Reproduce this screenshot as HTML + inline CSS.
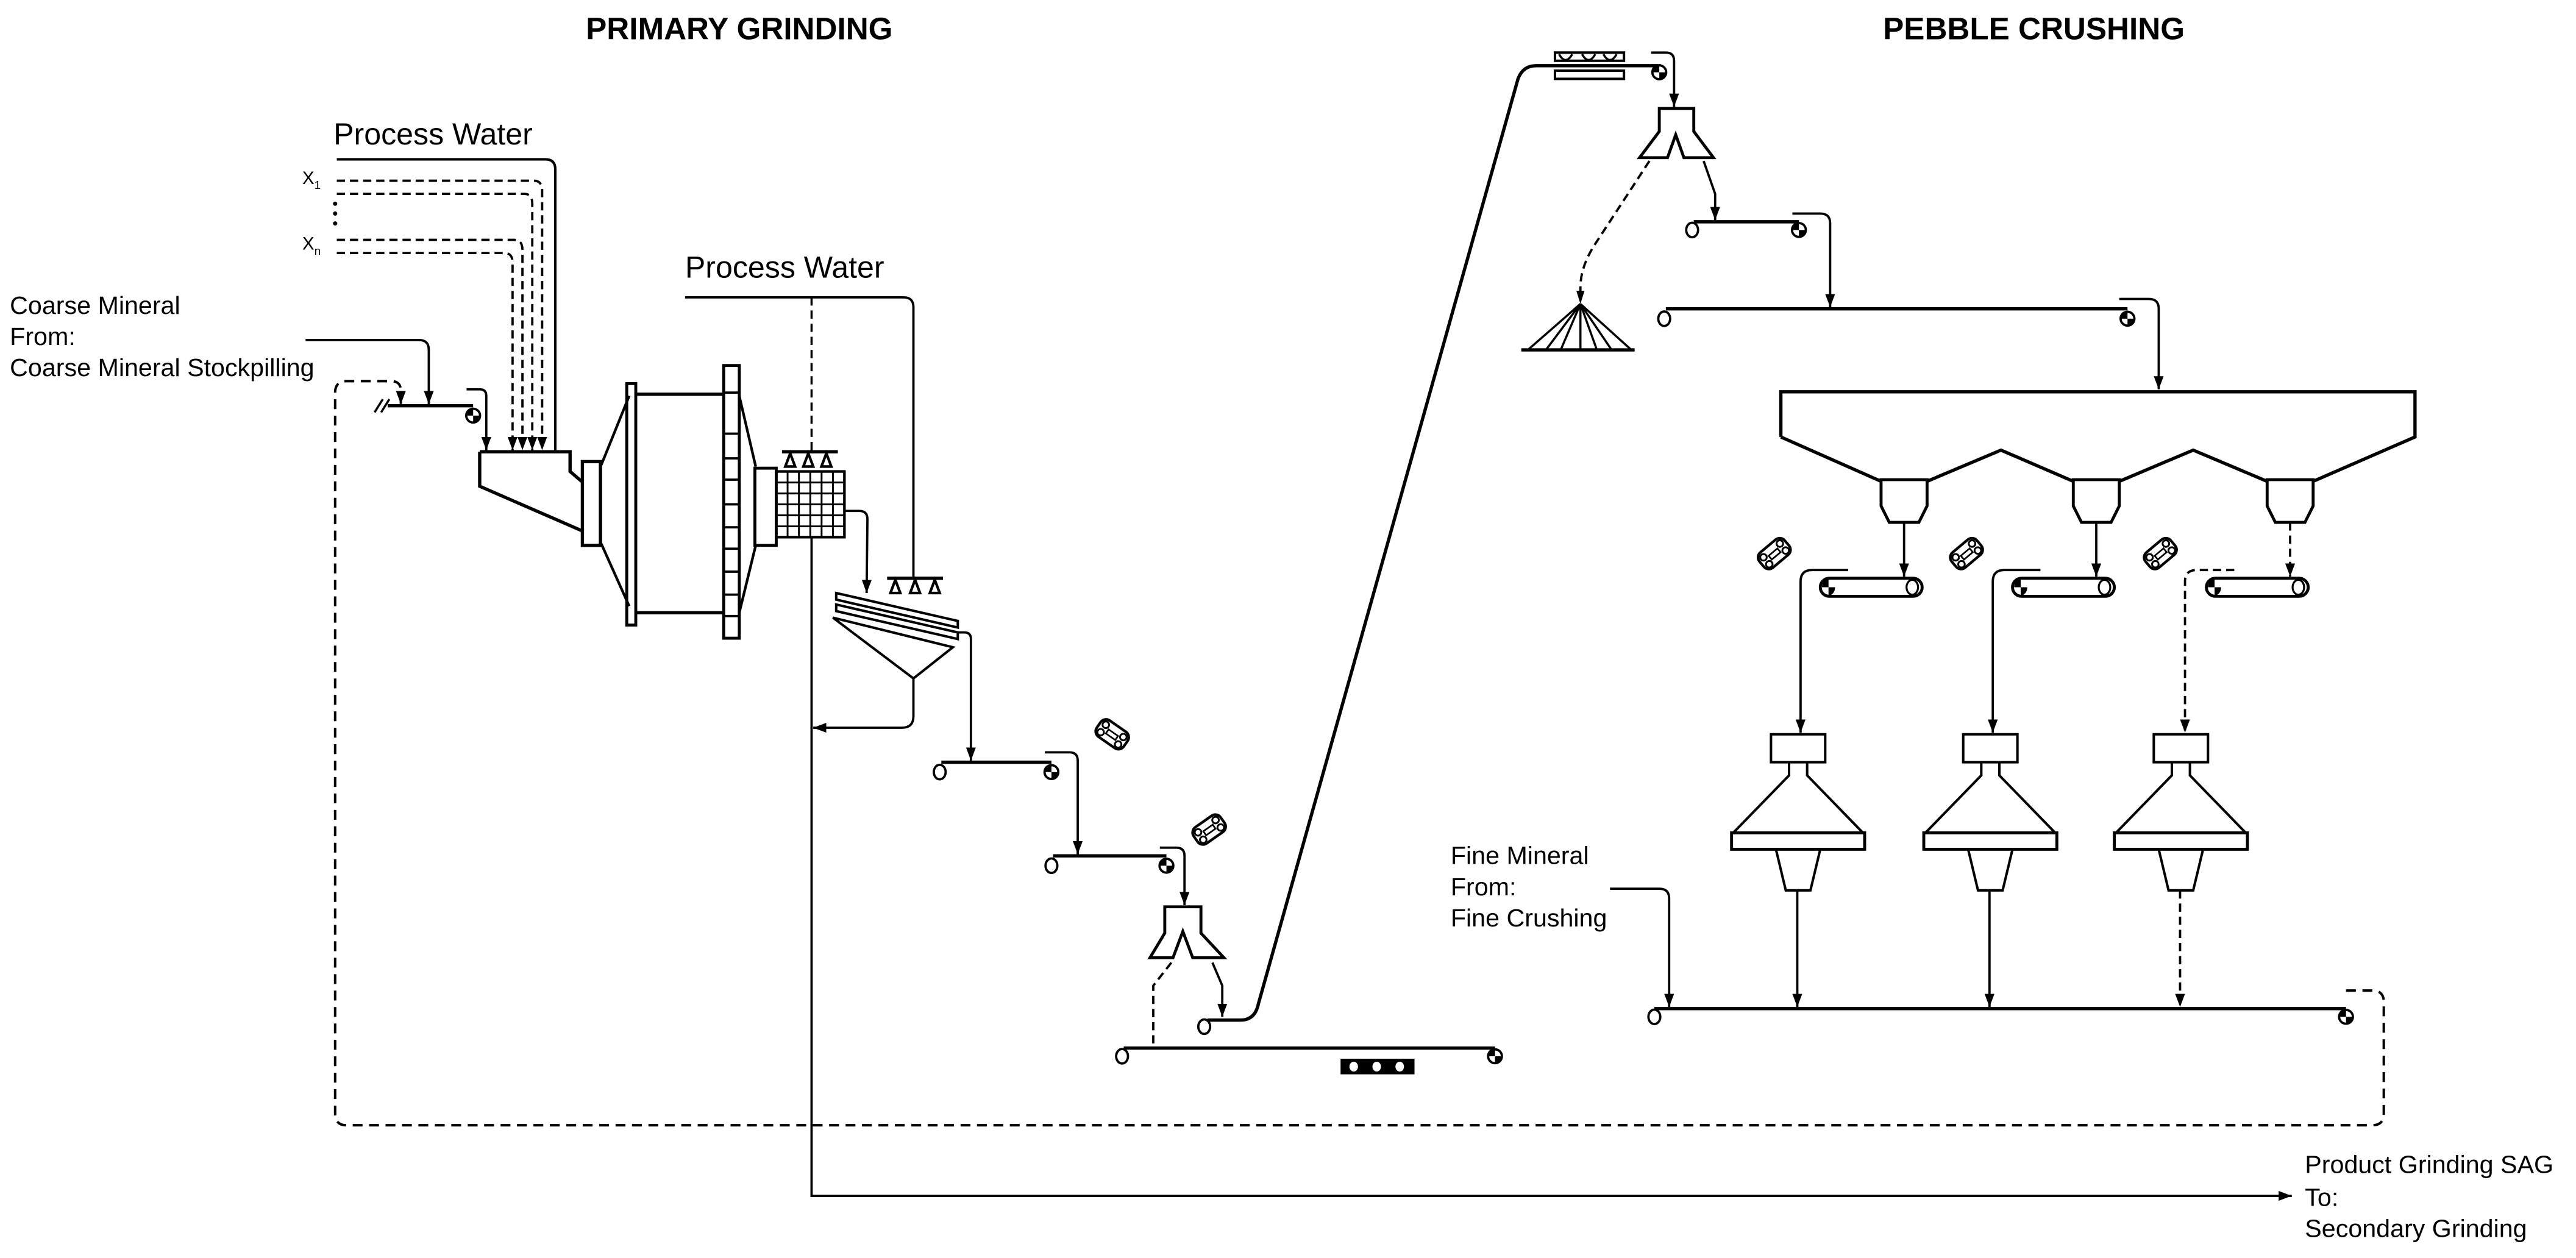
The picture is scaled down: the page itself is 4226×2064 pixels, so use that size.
<!DOCTYPE html>
<html><head><meta charset="utf-8"><style>
html,body{margin:0;padding:0;background:#fff}
svg{display:block}
text{font-family:"Liberation Sans",sans-serif;fill:#000}
</style></head><body>
<svg width="4226" height="2064" viewBox="0 0 1568 765.8" xmlns="http://www.w3.org/2000/svg">
<defs>
<marker id="ar" markerWidth="8" markerHeight="6" refX="8" refY="3" orient="auto" markerUnits="userSpaceOnUse"><path d="M0,0 L8,3 L0,6 Z" fill="#000"/></marker>
<symbol id="hp" viewBox="-6 -6 12 12" width="12" height="12" overflow="visible">
<circle cx="0" cy="0" r="4.2" fill="#fff" stroke="#000" stroke-width="1.4"/>
<path d="M0,0 L-4.2,0 A4.2,4.2 0 0 1 0,-4.2 Z" fill="#000"/>
<path d="M0,0 L4.2,0 A4.2,4.2 0 0 1 0,4.2 Z" fill="#000"/>
</symbol>
<symbol id="tp" viewBox="-6 -6 12 12" width="12" height="12" overflow="visible">
<ellipse cx="0" cy="0" rx="3.6" ry="4.4" fill="#fff" stroke="#000" stroke-width="1.4"/>
</symbol>
<g id="wg">
<rect x="-10" y="-6" width="20" height="12" rx="4" fill="#fff" stroke="#000" stroke-width="1.6"/>
<circle cx="-6.5" cy="-2.5" r="2" fill="#fff" stroke="#000" stroke-width="1.1"/>
<circle cx="6.5" cy="-2.5" r="2" fill="#fff" stroke="#000" stroke-width="1.1"/>
<circle cx="-6.5" cy="3" r="2" fill="#fff" stroke="#000" stroke-width="1.1"/>
<circle cx="6.5" cy="3" r="2" fill="#fff" stroke="#000" stroke-width="1.1"/>
<rect x="-3.5" y="-1.2" width="7" height="3" fill="#fff" stroke="#000" stroke-width="1"/>
</g>
</defs>

<text x="450" y="24" font-size="19" font-weight="bold" text-anchor="middle">PRIMARY GRINDING</text>
<text x="1238" y="24" font-size="19" font-weight="bold" text-anchor="middle">PEBBLE CRUSHING</text>

<text x="203" y="88" font-size="18.6">Process Water</text>
<text x="417" y="169" font-size="18.6">Process Water</text>
<text x="184" y="112" font-size="11">X<tspan font-size="7" dy="3">1</tspan></text>
<text x="184" y="152" font-size="11">X<tspan font-size="7" dy="3">n</tspan></text>
<circle cx="204" cy="124" r="1.3"/><circle cx="204" cy="130" r="1.3"/><circle cx="204" cy="136" r="1.3"/>

<text font-size="15.3"><tspan x="6" y="191">Coarse Mineral</tspan><tspan x="6" y="210">From:</tspan><tspan x="6" y="229">Coarse Mineral Stockpilling</tspan></text>
<text font-size="15.3"><tspan x="883" y="526">Fine Mineral</tspan><tspan x="883" y="545">From:</tspan><tspan x="883" y="564">Fine Crushing</tspan></text>
<text font-size="15.3"><tspan x="1403" y="714">Product Grinding SAG</tspan><tspan x="1403" y="734">To:</tspan><tspan x="1403" y="753">Secondary Grinding</tspan></text>

<g fill="none" stroke="#000" stroke-width="1.5" stroke-linejoin="miter">
<path d="M205,97 H332 Q338,97 338,103 V275"/>
<g stroke-dasharray="5,3" stroke-width="1.4">
<path d="M205,110 H325 Q330,110 330,116 V274" marker-end="url(#ar)"/>
<path d="M205,118 H319 Q324,118 324,124 V274" marker-end="url(#ar)"/>
<path d="M205,146 H313 Q318,146 318,152 V274" marker-end="url(#ar)"/>
<path d="M205,154 H307 Q312,154 312,160 V274" marker-end="url(#ar)"/>
</g>
<path d="M186,207 H255 Q261,207 261,213 V246" stroke-width="1.4" marker-end="url(#ar)"/>
<path d="M236,247 H288" stroke-width="2"/>
<path d="M228,251 L233,243 M232,251 L237,243" stroke-width="1.3"/>
<path d="M284,237 H292 Q296,237 296,241 V274" stroke-width="1.4" marker-end="url(#ar)"/>
<path d="M1428,603 H1444 Q1451,603 1451,610 V678 Q1451,685 1444,685 H211 Q204,685 204,678 V239 Q204,232 211,232 H238 Q244,232 244,238 V246" stroke-dasharray="6,4" marker-end="url(#ar)"/>

<path d="M292,275 H347 V287 L354,293 M292,275 V296 L354,323" stroke-width="2"/>
<rect x="354.5" y="281" width="11" height="51" stroke-width="2"/>
<path d="M366,283 L383,241 M366,331 L383,369" stroke-width="1.6"/>
<rect x="381.5" y="233.5" width="5.5" height="147" stroke-width="1.8"/>
<path d="M387,240 H441 M387,373 H441" stroke-width="2"/>
<rect x="440.5" y="222.5" width="9.5" height="166" stroke-width="1.8"/>
<path d="M440.5,239 H450 M440.5,264 H450 M440.5,279 H450 M440.5,292 H450 M440.5,307 H450 M440.5,321 H450 M440.5,334 H450 M440.5,348 H450 M440.5,362 H450 M440.5,375 H450" stroke-width="1.4"/>
<path d="M450,241 L460,284 M450,373 L460,332" stroke-width="1.6"/>
<rect x="459.5" y="285" width="13" height="47" stroke-width="1.8"/>
<rect x="472.5" y="287" width="41.5" height="40" stroke-width="1.6"/>
<path d="M479.4,287 V327 M486.3,287 V327 M493.2,287 V327 M500.1,287 V327 M507,287 V327 M472.5,293.7 H514 M472.5,300.4 H514 M472.5,307 H514 M472.5,313.7 H514 M472.5,320.4 H514" stroke-width="1.1"/>
<path d="M476,275 H510" stroke-width="2"/>
<path d="M481,276 L478,284 H484 Z M492,276 L489,284 H495 Z M503,276 L500,284 H506 Z" stroke-width="1.6"/>
<path d="M494,181 V275" stroke-dasharray="5,3" stroke-width="1.3"/>
<path d="M417,181 H550 Q556,181 556,187 V352" stroke-width="1.4"/>
<path d="M540,352 H574" stroke-width="2"/>
<path d="M545,353 L542,361 H548 Z M557,353 L554,361 H560 Z M569,353 L566,361 H572 Z" stroke-width="1.6"/>
<path d="M514,311 H523 Q528,311 528,316 L527.5,361" stroke-width="1.4" marker-end="url(#ar)"/>
<path d="M494,327 V728 H1395" stroke-width="1.4" marker-end="url(#ar)"/>
<path d="M509,361 L583,378 L583,382 L509,365 Z M509,368 L583,385 L583,389 L509,372 Z" stroke-width="1.5"/>
<path d="M507,376 L580,394 L556,413 Z" stroke-width="1.5"/>
<path d="M556,413 V436 Q556,443 549,443 H495" stroke-width="1.4" marker-end="url(#ar)"/>
<path d="M583,385 H587 Q591,385 591,389 V463" stroke-width="1.4" marker-end="url(#ar)"/>
<path d="M573,464 H640" stroke-width="2"/>
<path d="M636,458 H651 Q656,458 656,463 V520" stroke-width="1.4" marker-end="url(#ar)"/>
<path d="M641,521 H710" stroke-width="2"/>
<path d="M706,516 H716 Q721,516 721,521 V551" stroke-width="1.4" marker-end="url(#ar)"/>
<path d="M709,552 H731 V568 L745,583 H726 L720,567 L714,583 H700 L709,568 Z" stroke-width="1.8"/>
<path d="M738,586 L744,600 V619" stroke-width="1.4" marker-end="url(#ar)"/>
<path d="M713,586 L702,600 V638" stroke-width="1.4" stroke-dasharray="5,3"/>
<path d="M735,621 H755 Q764,621 766,611 L924,48 Q927,40 935,40 H1011" stroke-width="2"/>
<path d="M684,638 H910" stroke-width="2"/>
<rect x="816.5" y="645" width="44" height="8.5" fill="#000" stroke-width="1"/>
<ellipse cx="824" cy="649.3" rx="3.2" ry="3.6" fill="#fff" stroke-width="1.2"/>
<ellipse cx="838" cy="649.3" rx="3.2" ry="3.6" fill="#fff" stroke-width="1.2"/>
<ellipse cx="852" cy="649.3" rx="3.2" ry="3.6" fill="#fff" stroke-width="1.2"/>
<rect x="946.5" y="32" width="42" height="5" stroke-width="1.5"/>
<path d="M949,33 Q953,40 957,33 M963,33 Q967,40 971,33 M976,33 Q980,40 984,33" stroke-width="1.3"/>
<rect x="946.5" y="43" width="42" height="5" stroke-width="1.5"/>
<path d="M1005,32 H1014 Q1019,32 1019,37 V65" stroke-width="1.4" marker-end="url(#ar)"/>
<path d="M1010,66 H1031 V80 L1043,96 H1025 L1020,82 L1015,96 H998 L1010,80 Z" stroke-width="1.8"/>
<path d="M1037,98 L1044,118 V134" stroke-width="1.4" marker-end="url(#ar)"/>
<path d="M1004,98 L970,150 Q962,163 962,175 V181" stroke-width="1.4" stroke-dasharray="5,3"/>
<path d="M962,185 L959.5,177 H964.5 Z" fill="#000" stroke="none"/>
<path d="M926,213 H995" stroke-width="2"/>
<path d="M962,185 L930,213 M962,185 L941,213 M962,185 L950,213 M962,185 V213 M962,185 L972,213 M962,185 L981,213 M962,185 L993,213" stroke-width="1.3"/>
<path d="M1031,135 H1095" stroke-width="2"/>
<path d="M1091,130 H1108 Q1114,130 1114,136 V187" stroke-width="1.4" marker-end="url(#ar)"/>
<path d="M1014,188 H1295" stroke-width="2"/>
<path d="M1290,182 H1308 Q1314,182 1314,188 V237" stroke-width="1.4" marker-end="url(#ar)"/>
<path d="M1084,266 V238.5 H1470 V266 L1408,293 M1084,266 L1145,293 M1173,293 L1218,274 L1262,293 M1290,293 L1335,274 L1380,293" stroke-width="2"/>
<path d="M1145,292 H1173 V308 L1168,318 H1150 L1145,308 Z" stroke-width="1.8"/>
<path d="M1262,292 H1290 V308 L1285,318 H1267 L1262,308 Z" stroke-width="1.8"/>
<path d="M1380,292 H1408 V308 L1403,318 H1385 L1380,308 Z" stroke-width="1.8"/>
<path d="M1159,318 V351" stroke-width="1.4" marker-end="url(#ar)"/>
<path d="M1276,318 V351" stroke-width="1.4" marker-end="url(#ar)"/>
<path d="M1394,318 V351" stroke-width="1.4" stroke-dasharray="5,3" marker-end="url(#ar)"/>
<rect x="1108" y="352" width="62" height="11" rx="5.5" stroke-width="1.8"/>
<rect x="1225" y="352" width="62" height="11" rx="5.5" stroke-width="1.8"/>
<rect x="1343" y="352" width="62" height="11" rx="5.5" stroke-width="1.8"/>
<ellipse cx="1164" cy="357.5" rx="3.5" ry="4.5" stroke-width="1.2"/>
<ellipse cx="1281" cy="357.5" rx="3.5" ry="4.5" stroke-width="1.2"/>
<ellipse cx="1399" cy="357.5" rx="3.5" ry="4.5" stroke-width="1.2"/>
<path d="M1125,347 H1103 Q1096,347 1096,354 V446" stroke-width="1.4" marker-end="url(#ar)"/>
<path d="M1242,347 H1220 Q1213,347 1213,354 V446" stroke-width="1.4" marker-end="url(#ar)"/>
<path d="M1360,347 H1337 Q1330,347 1330,354 V446" stroke-width="1.4" stroke-dasharray="5,3" marker-end="url(#ar)"/>
<g stroke-width="1.5">
<rect x="1078" y="447" width="33" height="17"/><path d="M1089,464 V472 L1055,507 M1100,464 V472 L1134,507"/><rect x="1054" y="507" width="81" height="10" stroke-width="1.8"/><path d="M1081,517 L1087,542 H1102 L1108,517"/>
<rect x="1195" y="447" width="33" height="17"/><path d="M1206,464 V472 L1172,507 M1217,464 V472 L1251,507"/><rect x="1171" y="507" width="81" height="10" stroke-width="1.8"/><path d="M1198,517 L1204,542 H1219 L1225,517"/>
<rect x="1311" y="447" width="33" height="17"/><path d="M1322,464 V472 L1288,507 M1333,464 V472 L1367,507"/><rect x="1287" y="507" width="81" height="10" stroke-width="1.8"/><path d="M1314,517 L1320,542 H1335 L1341,517"/>
</g>
<path d="M1094,542 V613" stroke-width="1.4" marker-end="url(#ar)"/>
<path d="M1211,542 V613" stroke-width="1.4" marker-end="url(#ar)"/>
<path d="M1327,542 V613" stroke-width="1.4" stroke-dasharray="5,3" marker-end="url(#ar)"/>
<path d="M1007,614 H1428" stroke-width="2"/>
<path d="M980,541 H1010 Q1016,541 1016,547 V613" stroke-width="1.4" marker-end="url(#ar)"/>
</g>

<use href="#hp" x="282" y="247"/>
<use href="#hp" x="634" y="464"/>
<use href="#hp" x="704" y="521"/>
<use href="#hp" x="904" y="637"/>
<use href="#hp" x="1004" y="38"/>
<use href="#hp" x="1089" y="134"/>
<use href="#hp" x="1289" y="188"/>
<use href="#hp" x="1422" y="613"/>
<use href="#tp" x="566" y="464"/>
<use href="#tp" x="634" y="521"/>
<use href="#tp" x="727" y="619"/>
<use href="#tp" x="677" y="637"/>
<use href="#tp" x="1024" y="134"/>
<use href="#tp" x="1007" y="188"/>
<use href="#tp" x="1001" y="613"/>
<g fill="#000"><path d="M1113,357.5 L1109,357.5 A4,5 0 0 1 1113,352.5 Z"/><path d="M1113,357.5 L1117,357.5 A4,5 0 0 1 1113,362.5 Z"/>
<path d="M1230,357.5 L1226,357.5 A4,5 0 0 1 1230,352.5 Z"/><path d="M1230,357.5 L1234,357.5 A4,5 0 0 1 1230,362.5 Z"/>
<path d="M1348,357.5 L1344,357.5 A4,5 0 0 1 1348,352.5 Z"/><path d="M1348,357.5 L1352,357.5 A4,5 0 0 1 1348,362.5 Z"/></g>

<use href="#wg" transform="translate(677,447) rotate(35)"/>
<use href="#wg" transform="translate(736,505) rotate(-35)"/>
<use href="#wg" transform="translate(1080,337) rotate(-40)"/>
<use href="#wg" transform="translate(1197,337) rotate(-40)"/>
<use href="#wg" transform="translate(1315,337) rotate(-40)"/>
</svg>
</body></html>
